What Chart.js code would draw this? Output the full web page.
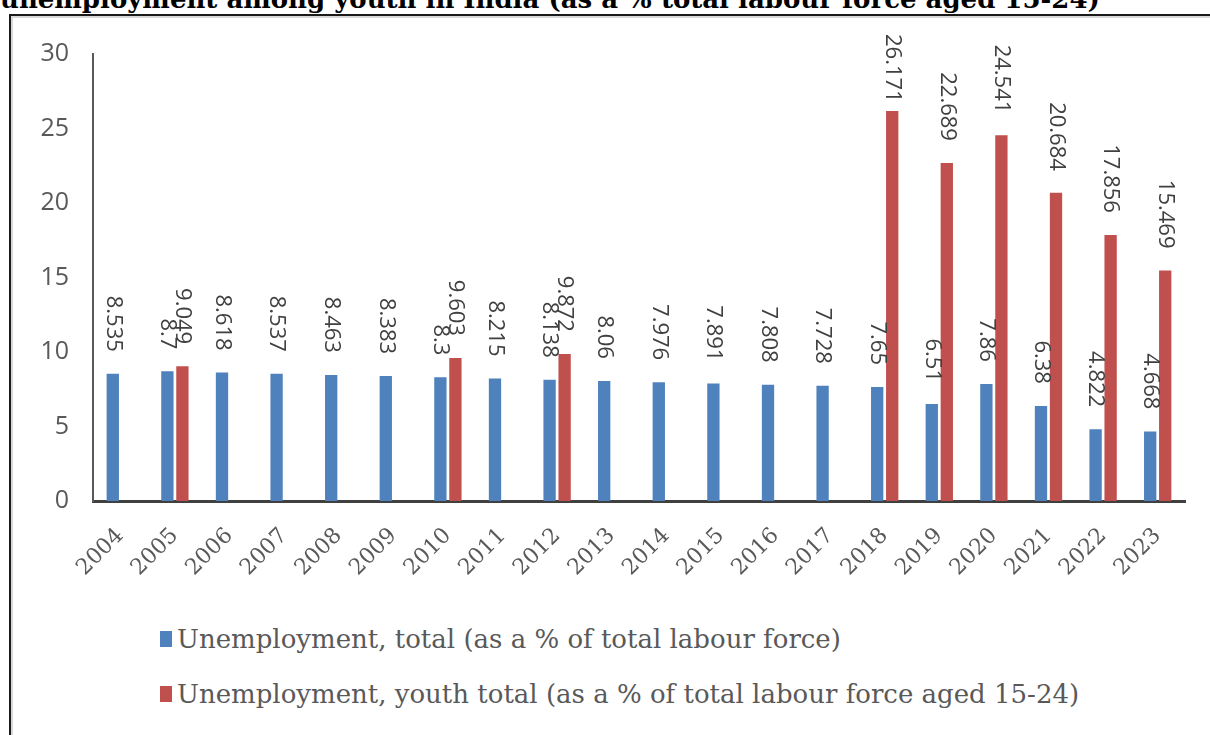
<!DOCTYPE html>
<html lang="en">
<head>
  <meta charset="UTF-8">
  <title>Unemployment among youth in India</title>
  <script src="https://cdn.jsdelivr.net/npm/chart.js"></script>
  <style>
    body {
      margin: 0;
      width: 1210px;
      height: 735px;
      overflow: hidden;
      background: #fff;
      position: relative;
    }

    .titulo {
      position: absolute;
      left: 0;
      top: -15px;
      font-family: 'DejaVu Serif', serif;
      font-weight: bold;
      font-size: 26px;
      line-height: 29px;
      color: #000;
      white-space: nowrap;
    }

    .moldura {
      position: absolute;
      left: 9px;
      top: 14px;
      width: 1300px;
      height: 800px;
      border-left: 2px solid #1a1a1a;
      border-top: 2px solid #1a1a1a;
      box-shadow: inset 2px 2px 0 #d9d9d9;
    }

    .grafico {
      position: absolute;
      left: 0;
      top: 0;
      width: 1210px;
      height: 600px;
    }

    .legenda {
      position: absolute;
      left: 160px;
      font-family: 'DejaVu Serif', serif;
      font-size: 26px;
      color: #595959;
      display: flex;
      align-items: center;
      white-space: nowrap;
    }

    .legenda span.cor {
      display: inline-block;
      width: 12px;
      height: 16px;
      margin-right: 5px;
    }
  </style>
</head>
<body>

  <div class="titulo">unemployment among youth in India (as a % total labour force aged 15-24)</div>
  <div class="moldura"></div>

  <div class="grafico">
    <canvas id="grafico"></canvas>
  </div>

  <div class="legenda" id="leg0" style="top: 624px;"></div>
  <div class="legenda" id="leg1" style="top: 679px;"></div>

  <script>
    const anos = ["2004", "2005", "2006", "2007", "2008", "2009", "2010", "2011", "2012", "2013",
                  "2014", "2015", "2016", "2017", "2018", "2019", "2020", "2021", "2022", "2023"];

    const total = [8.535, 8.7, 8.618, 8.537, 8.463, 8.383, 8.3, 8.215, 8.138, 8.06,
                   7.976, 7.891, 7.808, 7.728, 7.65, 6.51, 7.86, 6.38, 4.822, 4.668];

    const jovens = [null, 9.049, null, null, null, null, 9.603, null, 9.872, null,
                    null, null, null, null, 26.171, 22.689, 24.541, 20.684, 17.856, 15.469];

    const rotulos = [
      "Unemployment, total (as a % of total labour force)",
      "Unemployment, youth total (as a % of total labour force aged 15-24)"
    ];
    const cores = ["#4F81BD", "#C0504D"];

    // rótulos de valor girados 90° acima de cada barra
    const valoresPlugin = {
      id: "valores",
      afterDatasetsDraw(chart) {
        const ctx = chart.ctx;
        ctx.save();
        ctx.font = "22px 'Open Sans', sans-serif";
        ctx.fillStyle = "#404040";
        ctx.textAlign = "left";
        ctx.textBaseline = "middle";
        chart.data.datasets.forEach((ds, i) => {
          const meta = chart.getDatasetMeta(i);
          meta.data.forEach((bar, j) => {
            const v = ds.data[j];
            if (v === null) return;
            const txt = String(v);
            const w = ctx.measureText(txt).width;
            let inicio = bar.y - 22 - w;
            if (inicio < 34) inicio = 34;
            ctx.save();
            ctx.translate(bar.x, inicio);
            ctx.rotate(Math.PI / 2);
            ctx.fillText(txt, 0, 0);
            ctx.restore();
          });
        });
        ctx.restore();
      }
    };

    new Chart(document.getElementById("grafico"), {
      type: "bar",
      data: {
        labels: anos,
        datasets: [
          { label: rotulos[0], data: total, backgroundColor: cores[0] },
          { label: rotulos[1], data: jovens, backgroundColor: cores[1] }
        ]
      },
      options: {
        responsive: true,
        maintainAspectRatio: false,
        animation: false,
        categoryPercentage: 0.55,
        barPercentage: 0.82,
        layout: { padding: { top: 54, left: 12, right: 25, bottom: 0 } },
        plugins: {
          legend: { display: false },
          tooltip: { enabled: false }
        },
        scales: {
          x: {
            grid: { display: false },
            border: { color: "#404040", width: 3 },
            ticks: {
              color: "#595959",
              font: { family: "'DejaVu Serif', serif", size: 22 },
              minRotation: 45,
              maxRotation: 45,
              padding: 14
            },
            afterFit(scale) { scale.height = 99; }
          },
          y: {
            min: 0,
            max: 30,
            grid: { display: false, drawTicks: false },
            border: { color: "#595959", width: 2 },
            ticks: {
              stepSize: 5,
              color: "#595959",
              font: { family: "'Open Sans', sans-serif", size: 25 },
              padding: 24
            },
            afterFit(scale) { scale.width = 81; }
          }
        }
      },
      plugins: [valoresPlugin]
    });

    // legenda em duas linhas, como no original
    ["leg0", "leg1"].forEach((id, i) => {
      const el = document.getElementById(id);
      const cor = document.createElement("span");
      cor.className = "cor";
      cor.style.background = cores[i];
      el.appendChild(cor);
      el.appendChild(document.createTextNode(rotulos[i]));
    });
  </script>

</body>
</html>
